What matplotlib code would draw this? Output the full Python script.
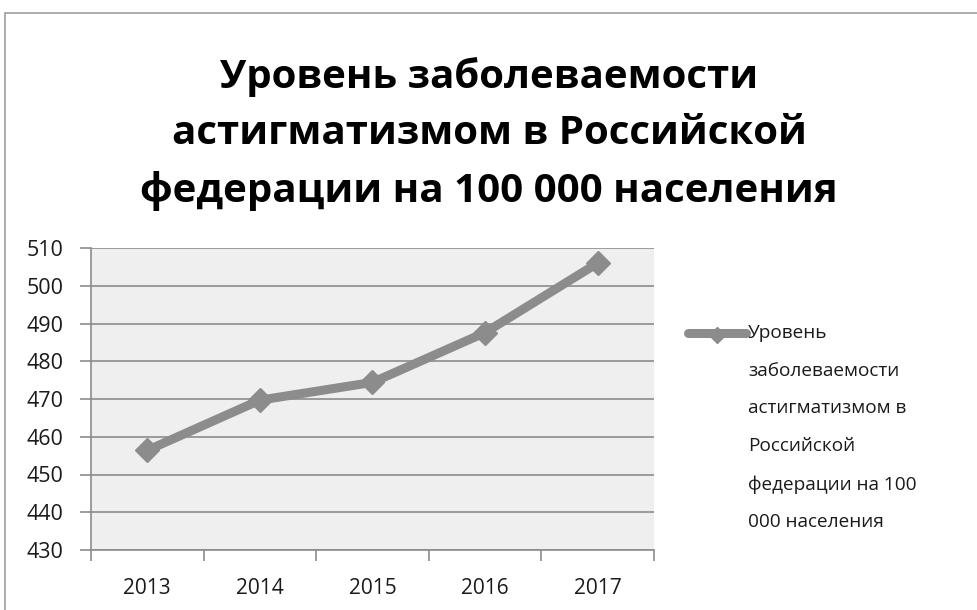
import matplotlib.pyplot as plt
from matplotlib.lines import Line2D
from matplotlib.patches import Rectangle

years = ['2013', '2014', '2015', '2016', '2017']
values = [456.4, 469.7, 474.4, 487.6, 506.0]
y_ticks = [430, 440, 450, 460, 470, 480, 490, 500, 510]
title = 'Уровень заболеваемости\nастигматизмом в Российской\nфедерации на 100 000 населения'
series_name = 'Уровень\nзаболеваемости\nастигматизмом в\nРоссийской\nфедерации на 100\n000 населения'

plt.rcParams['font.family'] = ['Open Sans', 'DejaVu Sans']

W, H = 978, 610
fig = plt.figure(figsize=(W / 100, H / 100), dpi=100)

# chart frame (goes off the right and bottom edge)
fig.add_artist(Rectangle((5 / W, -0.1), 1.2, 1.1 - 13 / H, transform=fig.transFigure,
                         fill=False, edgecolor='#a0a0a0', linewidth=1.2))

ax = fig.add_axes([91 / W, 1 - 550 / H, (654 - 91) / W, (550 - 248) / H])
ax.set_facecolor('#efefef')

x = list(range(1, len(years) + 1))
ax.plot(x, values, color='#8c8c8c', linewidth=6.5, marker='D', markersize=12,
        solid_capstyle='round', zorder=3)

ax.set_xlim(0.5, len(years) + 0.5)
ax.set_ylim(430, 510)
ax.set_yticks(y_ticks)
ax.yaxis.grid(True, color='#8c8c8c', linewidth=1.2)
ax.set_axisbelow(True)

# category boundaries as major ticks, labels on minor ticks
ax.set_xticks([i + 0.5 for i in range(len(years) + 1)])
ax.set_xticklabels([])
ax.set_xticks(x, minor=True)
ax.set_xticklabels(years, minor=True)
ax.tick_params(axis='x', which='major', length=8, color='#8c8c8c', width=1.2)
ax.tick_params(axis='x', which='minor', length=0, pad=20, labelsize=15, labelcolor='#1a1a1a')
ax.tick_params(axis='y', length=8, color='#8c8c8c', width=1.2, labelsize=15.5, pad=12,
               labelcolor='#1a1a1a')

for s in ['top', 'right']:
    ax.spines[s].set_visible(False)
ax.spines['left'].set_color('#8c8c8c')
ax.spines['left'].set_linewidth(1.2)
ax.spines['bottom'].set_color('#8c8c8c')
ax.spines['bottom'].set_linewidth(1.2)

fig.text(0.5, 1 - 134 / H, title, ha='center', va='center', fontsize=29,
         fontweight='bold', linespacing=1.57)

# legend
fig.add_artist(Line2D([688 / W, 746 / W], [1 - 333 / H, 1 - 333 / H], transform=fig.transFigure,
                      color='#8c8c8c', linewidth=6.5, solid_capstyle='round'))
fig.add_artist(Line2D([717 / W], [1 - 335 / H], transform=fig.transFigure, color='#8c8c8c',
                      marker='D', markersize=8))
fig.text(748 / W, 1 - 324 / H, series_name, ha='left', va='top', fontsize=13.7,
         linespacing=2.4, color='#1a1a1a')

fig.savefig('out.png', dpi=100)
